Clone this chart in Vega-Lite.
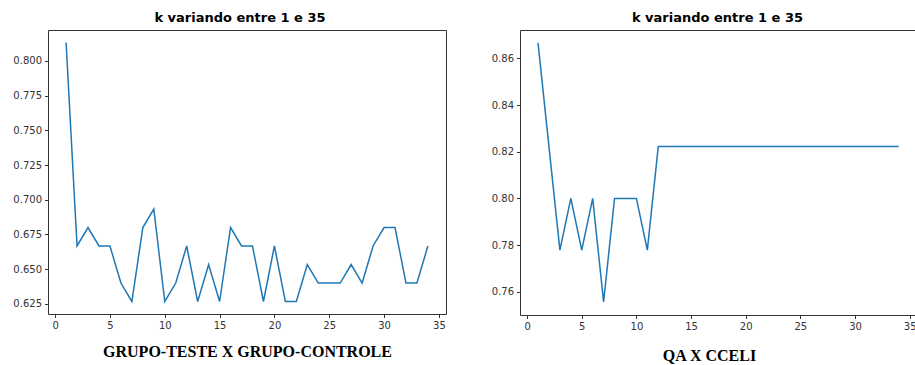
{
  "$schema": "https://vega.github.io/schema/vega-lite/v6.json",
  "padding": {"left": 12, "top": 11, "right": 0, "bottom": 0},
  "background": "white",
  "datasets": {
    "grupo": [
      {"k": 1, "score": 0.8133}, {"k": 2, "score": 0.6667}, {"k": 3, "score": 0.68}, {"k": 4, "score": 0.6667},
      {"k": 5, "score": 0.6667}, {"k": 6, "score": 0.64}, {"k": 7, "score": 0.6267}, {"k": 8, "score": 0.68},
      {"k": 9, "score": 0.6933}, {"k": 10, "score": 0.6267}, {"k": 11, "score": 0.64}, {"k": 12, "score": 0.6667},
      {"k": 13, "score": 0.6267}, {"k": 14, "score": 0.6533}, {"k": 15, "score": 0.6267}, {"k": 16, "score": 0.68},
      {"k": 17, "score": 0.6667}, {"k": 18, "score": 0.6667}, {"k": 19, "score": 0.6267}, {"k": 20, "score": 0.6667},
      {"k": 21, "score": 0.6267}, {"k": 22, "score": 0.6267}, {"k": 23, "score": 0.6533}, {"k": 24, "score": 0.64},
      {"k": 25, "score": 0.64}, {"k": 26, "score": 0.64}, {"k": 27, "score": 0.6533}, {"k": 28, "score": 0.64},
      {"k": 29, "score": 0.6667}, {"k": 30, "score": 0.68}, {"k": 31, "score": 0.68}, {"k": 32, "score": 0.64},
      {"k": 33, "score": 0.64}, {"k": 34, "score": 0.6667}
    ],
    "qa": [
      {"k": 1, "score": 0.8667}, {"k": 2, "score": 0.8222}, {"k": 3, "score": 0.7778}, {"k": 4, "score": 0.8},
      {"k": 5, "score": 0.7778}, {"k": 6, "score": 0.8}, {"k": 7, "score": 0.7556}, {"k": 8, "score": 0.8},
      {"k": 9, "score": 0.8}, {"k": 10, "score": 0.8}, {"k": 11, "score": 0.7778}, {"k": 12, "score": 0.8222},
      {"k": 13, "score": 0.8222}, {"k": 14, "score": 0.8222}, {"k": 15, "score": 0.8222}, {"k": 16, "score": 0.8222},
      {"k": 17, "score": 0.8222}, {"k": 18, "score": 0.8222}, {"k": 19, "score": 0.8222}, {"k": 20, "score": 0.8222},
      {"k": 21, "score": 0.8222}, {"k": 22, "score": 0.8222}, {"k": 23, "score": 0.8222}, {"k": 24, "score": 0.8222},
      {"k": 25, "score": 0.8222}, {"k": 26, "score": 0.8222}, {"k": 27, "score": 0.8222}, {"k": 28, "score": 0.8222},
      {"k": 29, "score": 0.8222}, {"k": 30, "score": 0.8222}, {"k": 31, "score": 0.8222}, {"k": 32, "score": 0.8222},
      {"k": 33, "score": 0.8222}, {"k": 34, "score": 0.8222}
    ]
  },
  "config": {
    "view": {"stroke": "#333333", "strokeWidth": 1},
    "axis": {
      "grid": false, "domain": false, "tickColor": "#333333", "tickSize": 3.5,
      "labelFont": "DejaVu Sans", "labelFontSize": 10, "labelColor": "#333333", "labelPadding": 3,
      "titleFont": "Liberation Serif", "titleFontSize": 16, "titleFontWeight": "bold", "titleColor": "#000000"
    },
    "title": {"font": "DejaVu Sans", "fontSize": 13, "fontWeight": "bold", "color": "#000000", "offset": 5}
  },
  "spacing": 43,
  "hconcat": [
    {
      "width": 398, "height": 284,
      "title": {"text": "k variando entre 1 e 35", "dx": -7},
      "data": {"name": "grupo"},
      "mark": {"type": "line", "color": "#1f77b4", "strokeWidth": 1.5, "clip": true},
      "encoding": {
        "x": {"field": "k", "type": "quantitative",
              "scale": {"domain": [-0.65, 35.65], "nice": false, "zero": false},
              "axis": {"values": [0, 5, 10, 15, 20, 25, 30, 35], "title": "GRUPO-TESTE X GRUPO-CONTROLE", "titlePadding": 13}},
        "y": {"field": "score", "type": "quantitative",
              "scale": {"domain": [0.6177, 0.8223], "nice": false, "zero": false},
              "axis": {"values": [0.625, 0.65, 0.675, 0.7, 0.725, 0.75, 0.775, 0.8], "format": ".3f", "title": null}}
      }
    },
    {
      "width": 395, "height": 285,
      "title": {"text": "k variando entre 1 e 35"},
      "data": {"name": "qa"},
      "mark": {"type": "line", "color": "#1f77b4", "strokeWidth": 1.5, "clip": true},
      "encoding": {
        "x": {"field": "k", "type": "quantitative",
              "scale": {"domain": [-0.65, 35.49], "nice": false, "zero": false},
              "axis": {"values": [0, 5, 10, 15, 20, 25, 30, 35], "title": "QA X CCELI", "titlePadding": 16, "titleX": 189}},
        "y": {"field": "score", "type": "quantitative",
              "scale": {"domain": [0.75, 0.8722], "nice": false, "zero": false},
              "axis": {"values": [0.76, 0.78, 0.8, 0.82, 0.84, 0.86], "format": ".2f", "title": null}}
      }
    }
  ]
}
